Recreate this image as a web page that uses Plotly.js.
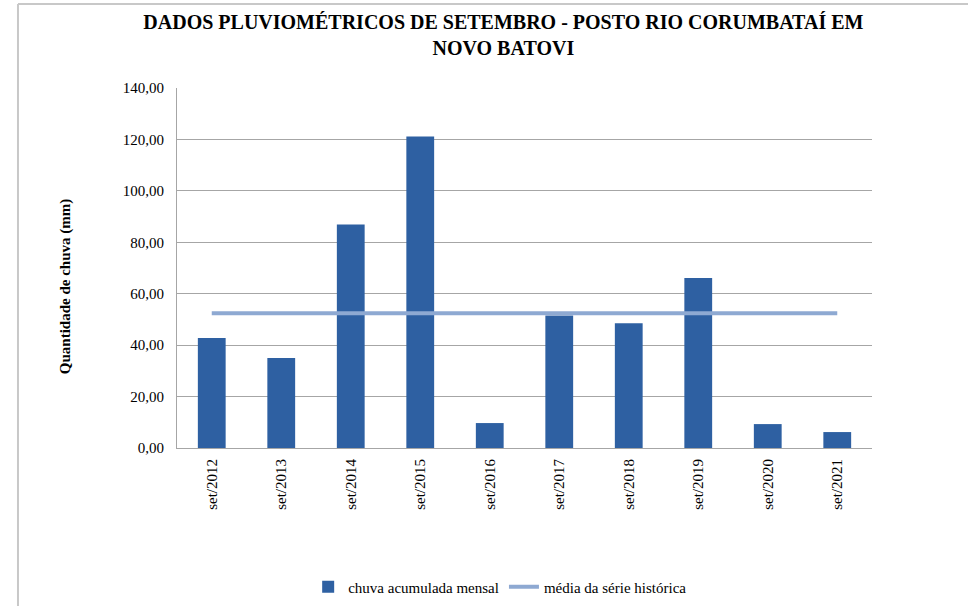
<!DOCTYPE html>
<html>
<head>
<meta charset="utf-8">
<script src="https://cdn.plot.ly/plotly-3.0.1.min.js"></script>
<style>
html,body{margin:0;padding:0;background:#fff;}
#chart{width:968px;height:606px;}
</style>
</head>
<body>
<div id="chart"></div>
<script>
const categories = ["set/2012","set/2013","set/2014","set/2015","set/2016","set/2017","set/2018","set/2019","set/2020","set/2021"];
const chuvaMensal = [42.8, 35.0, 86.9, 121.1, 9.7, 51.5, 48.5, 66.1, 9.3, 6.2];
const mediaHistorica = [52.4, 52.4, 52.4, 52.4, 52.4, 52.4, 52.4, 52.4, 52.4, 52.4];
const yTicks = [0, 20, 40, 60, 80, 100, 120, 140];

const serif = "'Liberation Serif', 'Times New Roman', Times, serif";

const traces = [
  {
    type: "bar",
    name: "chuva acumulada mensal",
    x: categories,
    y: chuvaMensal,
    marker: {color: "#2E60A2", line: {width: 0}},
    hoverinfo: "x+y"
  },
  {
    type: "scatter",
    mode: "lines",
    name: "média da série histórica",
    x: categories,
    y: mediaHistorica,
    line: {color: "#8EA9D2", width: 4}
  }
];

const layout = {
  width: 968,
  height: 606,
  paper_bgcolor: "#ffffff",
  plot_bgcolor: "#ffffff",
  separators: ",.",
  margin: {l: 177, r: 96, t: 88, b: 158, autoexpand: false},
  bargap: 0.6,
  showlegend: true,
  font: {family: serif, color: "#000000", size: 14},
  title: {
    text: "<b>DADOS PLUVIOMÉTRICOS DE SETEMBRO - POSTO RIO CORUMBATAÍ EM<br>NOVO BATOVI</b>",
    font: {family: serif, size: 20, color: "#000000"},
    x: 0.52,
    xref: "container",
    xanchor: "center",
    y: 0.952,
    yref: "container",
    yanchor: "top",
    automargin: false
  },
  xaxis: {
    type: "category",
    tickangle: -90,
    tickfont: {family: serif, size: 15, color: "#000000"},
    showgrid: false,
    showline: true,
    linecolor: "#A6A6A6",
    linewidth: 1,
    ticks: "",
    ticklabelstandoff: 4
  },
  yaxis: {
    range: [0, 140],
    tickvals: yTicks,
    tickformat: ".2f",
    tickfont: {family: serif, size: 15, color: "#000000"},
    showgrid: true,
    gridcolor: "#A6A6A6",
    gridwidth: 1,
    showline: true,
    linecolor: "#A6A6A6",
    linewidth: 1,
    zeroline: false,
    ticks: "",
    ticklabelstandoff: 9
  },
  legend: {
    orientation: "h",
    x: 0.465,
    xanchor: "center",
    y: -0.386,
    yanchor: "middle",
    font: {family: serif, size: 15, color: "#000000"},
    itemwidth: 30,
    traceorder: "normal"
  },
  annotations: [
    {
      text: "<b>Quantidade de chuva (mm)</b>",
      textangle: -90,
      xref: "paper", yref: "paper",
      x: -0.161, y: 0.447,
      xanchor: "center", yanchor: "middle",
      showarrow: false,
      font: {family: serif, size: 15, color: "#000000"}
    }
  ],
  shapes: [
    {type: "line", xref: "paper", yref: "paper", x0: -0.2288, x1: 1.14, y0: 1.2333, y1: 1.2333, line: {color: "#C8C8C8", width: 2}},
    {type: "line", xref: "paper", yref: "paper", x0: -0.2288, x1: -0.2288, y0: 1.2333, y1: -0.45, line: {color: "#C8C8C8", width: 2}}
  ]
};

Plotly.newPlot("chart", traces, layout, {displayModeBar: false, staticPlot: true});
</script>
</body>
</html>
